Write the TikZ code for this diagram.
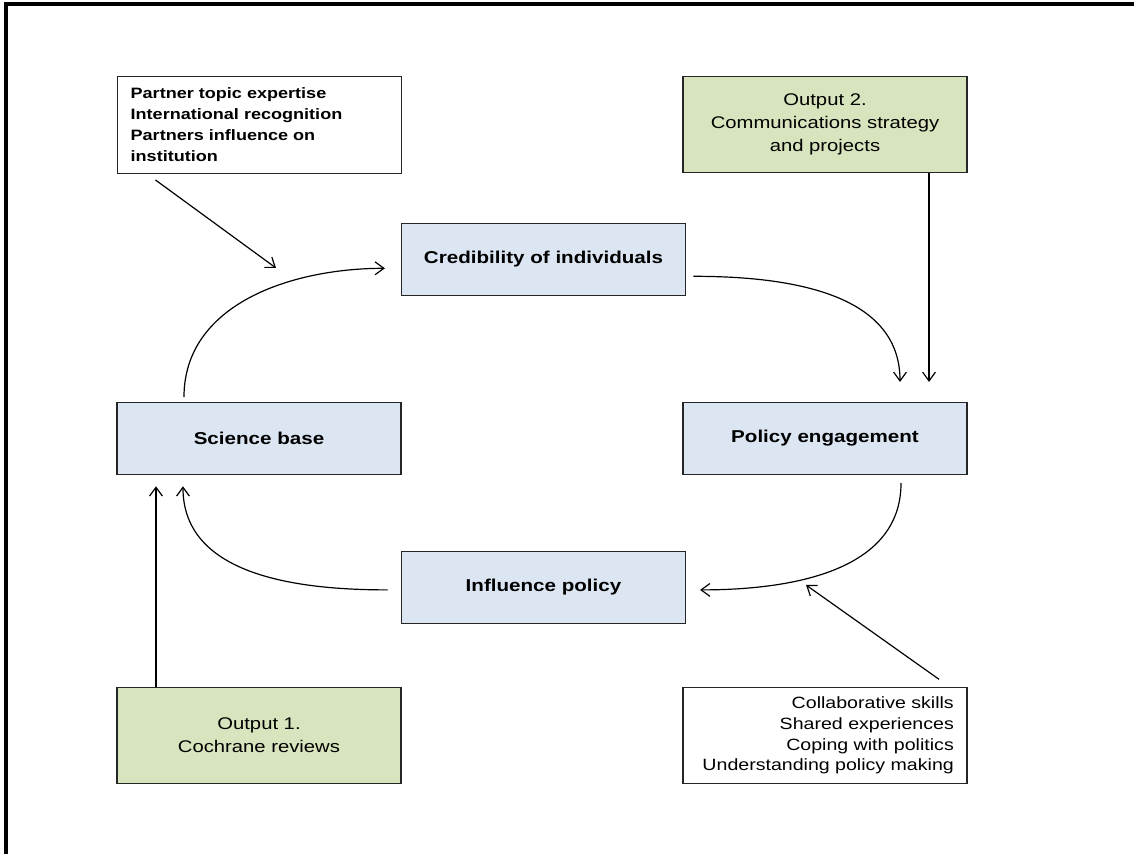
\documentclass[tikz,border=0pt]{standalone}
\usepackage{fontspec}
\setmainfont{Liberation Sans}[FakeStretch=1.2]
\usetikzlibrary{arrows.meta}
\definecolor{boxblue}{RGB}{220,230,242}
\definecolor{boxgreen}{RGB}{215,228,189}
\begin{document}
\begin{tikzpicture}[x=0.025cm,y=-0.025cm,
    box/.style={draw=black!85,line width=0.8pt,minimum width=7.1cm,inner sep=0pt},
    midbox/.style={box,fill=boxblue,minimum height=1.8cm,font=\fontsize{12.2}{14}\selectfont\bfseries},
    outbox/.style={box,fill=boxgreen,minimum height=2.42cm,align=center,font=\fontsize{12}{16.2}\selectfont},
    notebox/.style={box,minimum height=2.42cm,inner xsep=0.33cm,text width=6.44cm},
    arr/.style={line width=0.85pt,-{Straight Barb[length=2.2mm,width=3.2mm]}}]
    \useasboundingbox (0,0) rectangle (1134,854);
    \draw[line width=2.6pt] (6,854) -- (6,4) -- (1134,4);

    \node[notebox,align=left,font=\fontsize{10.7}{14.9}\selectfont\bfseries] (factors) at (259.5,125)
        {Partner topic expertise\\International recognition\\Partners influence on\\institution};
    \node[outbox] (out2) at (825,124.5) {Output 2.\\Communications strategy\\and projects};

    \node[midbox] (cred) at (543.5,259.5) {Credibility of individuals};
    \node[midbox] (science) at (259,438.5) {Science base};
    \node[midbox] (engage) at (825,438.5) {Policy engagement};
    \node[midbox] (influence) at (543.5,587.5) {Influence policy};

    \node[outbox] (out1) at (259,735.5) {Output 1.\\Cochrane reviews};
    \node[notebox,align=right,font=\fontsize{11.6}{14.8}\selectfont] (skills) at (825,735.5)
        {Collaborative skills\\Shared experiences\\Coping with politics\\Understanding policy making};

    \coordinate (into1) at (276,268);
    \coordinate (into2) at (806,585);

    % the cycle
    \draw[arr] ([xshift=-1.875cm,yshift=0.12cm]science.north) to[out=90,in=180] ([xshift=-0.4cm,yshift=-0.22cm]cred.west);
    \draw[arr] ([xshift=0.18cm,yshift=-0.42cm]cred.east) to[out=0,in=90] ([xshift=1.875cm,yshift=0.5cm]engage.north);
    \draw[arr] ([xshift=1.9cm,yshift=-0.2cm]engage.south) to[out=-90,in=0] ([xshift=0.35cm,yshift=-0.06cm]influence.east);
    \draw[arr] ([xshift=-0.33cm,yshift=-0.06cm]influence.west) to[out=180,in=-90] ([xshift=-1.9cm,yshift=-0.28cm]science.south);

    % inputs
    \draw[arr] ([xshift=-2.6cm,yshift=-0.15cm]factors.south) -- (into1);
    \draw[arr] ([xshift=2.6cm]out2.south) -- ([xshift=2.6cm,yshift=0.5cm]engage.north);
    \draw[arr] ([xshift=-2.575cm]out1.north) -- ([xshift=-2.575cm,yshift=-0.28cm]science.south);
    \draw[arr] ([xshift=2.85cm,yshift=0.18cm]skills.north) -- (into2);
\end{tikzpicture}
\end{document}
